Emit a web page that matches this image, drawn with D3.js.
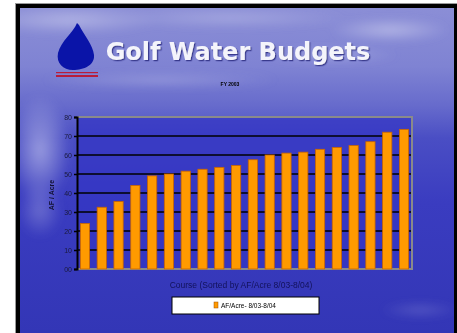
<!DOCTYPE html>
<html>
<head>
<meta charset="utf-8">
<script src="https://cdn.jsdelivr.net/npm/d3@7"></script>
<style>
  html, body { margin: 0; padding: 0; background: #fff; }
  svg { display: block; }
</style>
</head>
<body>
<svg id="chart" width="457" height="333"></svg>
<script>
// Water use per course, sorted ascending (AF / Acre)
const courses = d3.range(1, 21).map(i => "C" + i);
const afPerAcre = [24, 32.5, 35.5, 44, 49, 50, 51.5, 52.5, 53.5, 54.5,
                   57.5, 60, 61, 61.5, 63, 64, 65, 67, 72, 73.5];
const tickValues = [0, 10, 20, 30, 40, 50, 60, 70, 80];
const tickLabels = ["00", "10", "20", "30", "40", "50", "60", "70", "80"];
const titleText = "Golf Water Budgets";
const subtitleText = "FY 2003";
const xTitle = "Course (Sorted by AF/Acre 8/03-8/04)";
const yTitle = "AF / Acre";
const legendLabel = "AF/Acre- 8/03-8/04";

const svg = d3.select("#chart");
const defs = svg.append("defs");

// sky backdrop
const sky = defs.append("linearGradient").attr("id", "sky")
  .attr("x1", 0).attr("y1", 0).attr("x2", 0).attr("y2", 1);
[[0, "#8b8ed6"], [0.18, "#7f83d3"], [0.3, "#676bcc"], [0.4, "#4a4ec4"],
 [0.6, "#3a3cc0"], [1, "#3336b6"]].forEach(([o, c]) =>
  sky.append("stop").attr("offset", o).attr("stop-color", c));

const haze = defs.append("radialGradient").attr("id", "haze")
  .attr("cx", 0.5).attr("cy", 0.5).attr("r", 0.5);
haze.append("stop").attr("offset", 0).attr("stop-color", "#d4d6f2").attr("stop-opacity", 0.75);
haze.append("stop").attr("offset", 1).attr("stop-color", "#d4d6f2").attr("stop-opacity", 0);

defs.append("clipPath").attr("id", "frameClip")
  .append("rect").attr("x", 20).attr("y", 8).attr("width", 434).attr("height", 325);

defs.append("filter").attr("id", "soft")
  .append("feGaussianBlur").attr("stdDeviation", 4);
const sh = defs.append("filter").attr("id", "shadow")
  .attr("x", -0.1).attr("y", -0.3).attr("width", 1.2).attr("height", 1.6);
sh.append("feDropShadow").attr("dx", 1.2).attr("dy", 1.2)
  .attr("stdDeviation", 0.7).attr("flood-color", "#1a1d70").attr("flood-opacity", 0.7);

// frame
svg.append("rect").attr("x", 15).attr("y", 3).attr("width", 442).attr("height", 330)
  .attr("fill", "#9a9a9a");
svg.append("rect").attr("x", 16).attr("y", 4).attr("width", 441).attr("height", 329)
  .attr("fill", "#000");
svg.append("rect").attr("x", 20).attr("y", 8).attr("width", 434).attr("height", 325)
  .attr("fill", "url(#sky)");

// clouds
const clouds = svg.append("g").attr("clip-path", "url(#frameClip)")
  .append("g").attr("filter", "url(#soft)");
[[70, 20, 90, 14, 0.5], [230, 18, 120, 10, 0.35], [390, 30, 60, 12, 0.55],
 [330, 55, 70, 8, 0.35], [40, 150, 30, 55, 0.55], [40, 210, 22, 28, 0.3],
 [160, 80, 120, 8, 0.3], [420, 310, 40, 8, 0.2]].forEach(([cx, cy, rx, ry, op]) =>
  clouds.append("ellipse").attr("cx", cx).attr("cy", cy).attr("rx", rx).attr("ry", ry)
    .attr("fill", "url(#haze)").attr("opacity", op * 1.4));

// logo: water drop with red bars
const logo = svg.append("g");
logo.append("path")
  .attr("d", "M77,23 C73,33 61,41 58,53 C56,63 63,70 73,70 C84,70 95,65 94,55 C93,45 84,35 79,25 Z")
  .attr("fill", "#0a14a8");
logo.append("rect").attr("x", 56).attr("y", 72).attr("width", 42).attr("height", 1.2).attr("fill", "#b81c3a");
logo.append("rect").attr("x", 56).attr("y", 75).attr("width", 42).attr("height", 2).attr("fill", "#b81c3a");

// title
svg.append("text").attr("x", 238).attr("y", 60)
  .attr("text-anchor", "middle")
  .attr("font-family", "DejaVu Sans, Verdana, sans-serif")
  .attr("font-weight", "bold").attr("font-size", 24)
  .attr("fill", "#f4f4fb").attr("filter", "url(#shadow)")
  .text(titleText);

svg.append("text").attr("x", 230).attr("y", 86)
  .attr("text-anchor", "middle")
  .attr("font-family", "Liberation Sans, Arial, sans-serif")
  .attr("font-weight", "bold").attr("font-size", 5)
  .attr("fill", "#000").text(subtitleText);

// plot
const margin = { left: 77, right: 412, top: 117, bottom: 269 };
const x = d3.scaleBand().domain(courses).range([margin.left, margin.right])
  .paddingInner(0.45).paddingOuter(0.2);
const y = d3.scaleLinear().domain([0, 80]).range([margin.bottom, margin.top]);

svg.append("rect").attr("x", margin.left).attr("y", margin.top)
  .attr("width", margin.right - margin.left).attr("height", margin.bottom - margin.top)
  .attr("fill", "#3436c4").attr("opacity", 0.75);

// gridlines
svg.append("g").selectAll("line").data(tickValues.filter(v => v > 0 && v < 80))
  .join("line")
  .attr("x1", margin.left).attr("x2", margin.right)
  .attr("y1", d => y(d)).attr("y2", d => y(d))
  .attr("stroke", "#000").attr("stroke-width", 1.5);

// plot border (grey)
svg.append("path")
  .attr("d", `M${margin.left},${margin.top}H${margin.right}V${margin.bottom}H${margin.left}`)
  .attr("fill", "none").attr("stroke", "#8a8a8a").attr("stroke-width", 2);

// bars
svg.append("g").selectAll("rect").data(afPerAcre).join("rect")
  .attr("x", (d, i) => x(courses[i]))
  .attr("y", d => y(d))
  .attr("width", x.bandwidth())
  .attr("height", d => y(0) - y(d))
  .attr("fill", "#ff9a00")
  .attr("stroke", "#c86400").attr("stroke-width", 0.8);

// y axis
const yAxis = d3.axisLeft(y).tickValues(tickValues)
  .tickFormat((d, i) => tickLabels[i]).tickSize(3).tickPadding(2);
const ya = svg.append("g").attr("transform", `translate(${margin.left},0)`).call(yAxis);
ya.select(".domain").attr("stroke", "#000").attr("stroke-width", 2);
ya.selectAll(".tick line").attr("stroke", "#000").attr("stroke-width", 1.5);
ya.selectAll(".tick text").attr("font-family", "Liberation Sans Narrow, Liberation Sans, Arial, sans-serif")
  .attr("font-size", 7).attr("fill", "#1a1a3a");

svg.append("text")
  .attr("transform", `translate(54,${(margin.top + margin.bottom) / 2 + 2}) rotate(-90)`)
  .attr("text-anchor", "middle")
  .attr("font-family", "Liberation Sans, Arial, sans-serif")
  .attr("font-weight", "bold").attr("font-size", 7).attr("fill", "#101030")
  .text(yTitle);

// x title
svg.append("text").attr("x", 241).attr("y", 288)
  .attr("text-anchor", "middle")
  .attr("font-family", "Liberation Sans, Arial, sans-serif")
  .attr("font-size", 8.5).attr("fill", "#12125a")
  .text(xTitle);

// legend
const lg = svg.append("g");
lg.append("rect").attr("x", 172).attr("y", 297).attr("width", 147).attr("height", 17)
  .attr("fill", "#fff").attr("stroke", "#000").attr("stroke-width", 1);
lg.append("rect").attr("x", 214).attr("y", 302).attr("width", 4).attr("height", 6)
  .attr("fill", "#ff9a00").attr("stroke", "#a05000").attr("stroke-width", 0.5);
lg.append("text").attr("x", 221).attr("y", 308)
  .attr("font-family", "Liberation Sans Narrow, Liberation Sans, Arial, sans-serif")
  .attr("font-size", 6.5).attr("fill", "#000")
  .text(legendLabel);
</script>
</body>
</html>
